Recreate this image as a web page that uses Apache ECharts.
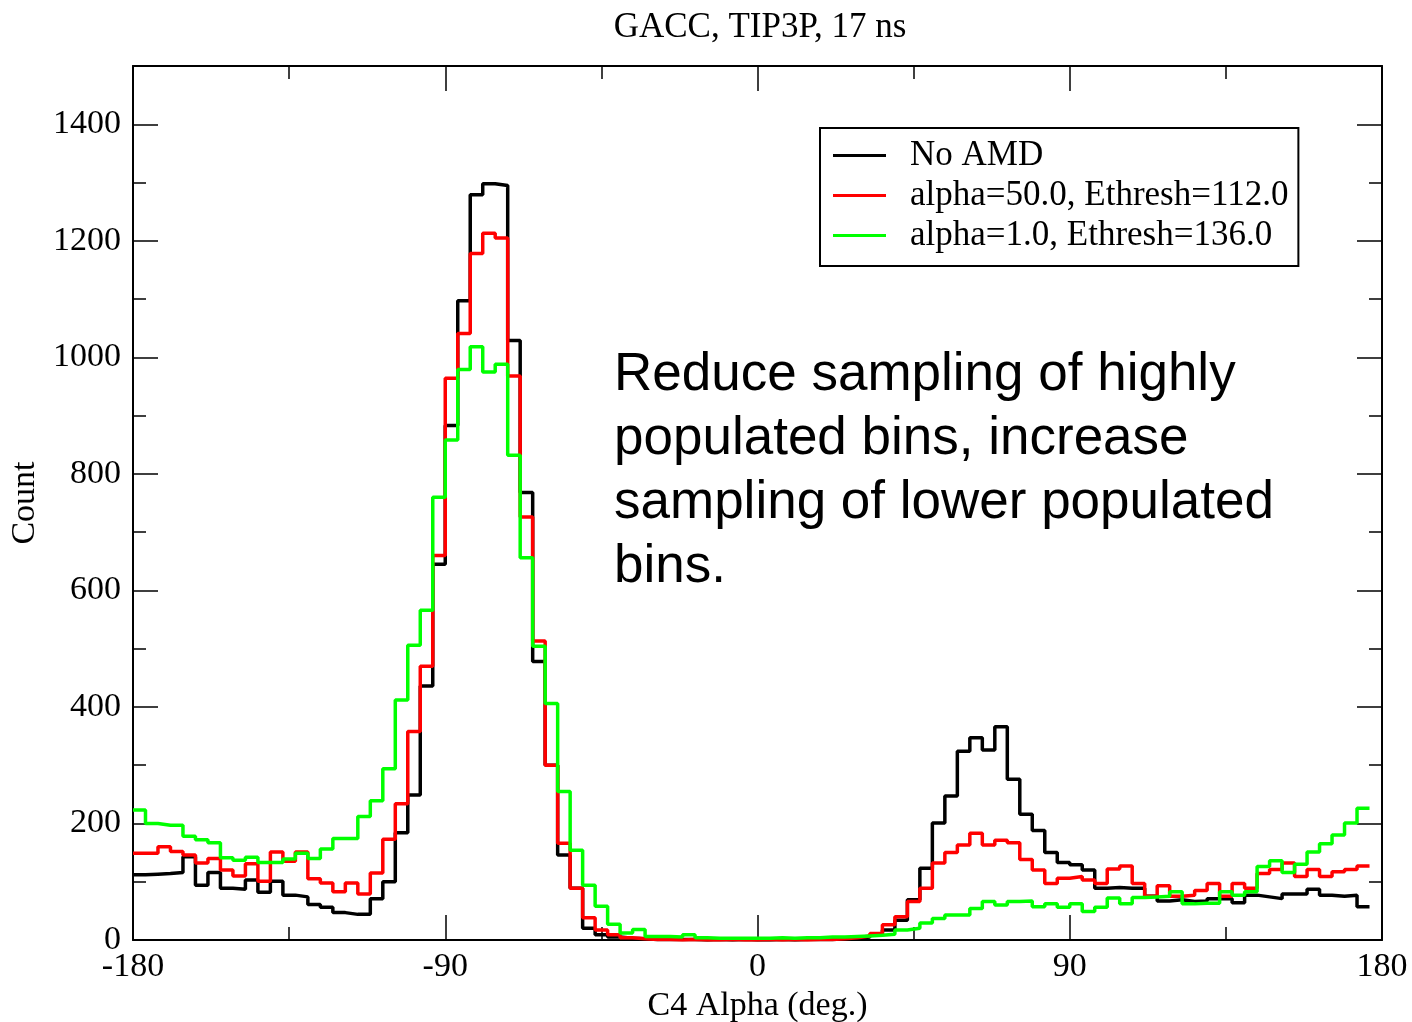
<!DOCTYPE html>
<html>
<head>
<meta charset="utf-8">
<script src="https://cdn.jsdelivr.net/npm/echarts@6/dist/echarts.min.js"></script>
<style>
  html, body { margin: 0; padding: 0; background: #fff; }
  #chart { width: 1412px; height: 1022px; }
</style>
</head>
<body>
<div id="chart"></div>
<script>
// ---- Data (histogram of C4 alpha, 3.6 deg bins starting at -180) ----
const binStart = -180;
const binWidth = 3.6;
const xTicks = [-180, -90, 0, 90, 180];
const yTicks = [0, 200, 400, 600, 800, 1000, 1200, 1400];
const seriesNames = ['No AMD', 'alpha=50.0, Ethresh=112.0', 'alpha=1.0, Ethresh=136.0'];

const noAMD = [112, 113, 114, 116, 143, 94, 116, 89, 87, 103,
  82, 101, 77, 74, 61, 56, 47, 44, 44, 71,
  100, 184, 249, 436, 645, 883, 1097, 1279, 1298, 1295,
  1029, 768, 478, 300, 146, 89, 20, 9, 5, 3,
  2, 1, 1, 1, 1, 0, 1, 0, 1, 0,
  0, 1, 0, 1, 1, 1, 2, 3, 5, 9,
  17, 34, 69, 123, 201, 247, 324, 347, 326, 366,
  276, 216, 188, 150, 133, 129, 120, 89, 90, 89,
  89, 75, 67, 69, 66, 67, 71, 71, 64, 77,
  74, 71, 79, 79, 87, 77, 75, 77, 57];

const alpha50 = [149, 149, 160, 152, 146, 132, 140, 120, 110, 131,
  101, 151, 135, 151, 105, 98, 83, 98, 79, 115,
  173, 234, 358, 470, 660, 964, 1041, 1178, 1213, 1205,
  968, 726, 513, 300, 166, 89, 38, 17, 9, 4,
  2, 1, 1, 0, 1, 0, 0, 1, 0, 0,
  1, 0, 1, 0, 1, 1, 2, 4, 7, 11,
  26, 40, 66, 89, 132, 150, 163, 183, 163, 171,
  167, 138, 120, 97, 106, 109, 103, 97, 122, 127,
  97, 75, 93, 75, 77, 85, 97, 75, 97, 89,
  114, 121, 132, 109, 121, 109, 117, 121, 127];

const alpha1 = [223, 200, 197, 197, 178, 172, 167, 141, 137, 142,
  133, 133, 139, 149, 140, 156, 174, 174, 212, 239,
  294, 412, 506, 566, 760, 858, 979, 1018, 975, 988,
  832, 656, 504, 406, 255, 154, 94, 58, 27, 12,
  18, 6, 6, 5, 9, 4, 3, 3, 3, 3,
  3, 4, 3, 4, 4, 5, 5, 6, 7, 8,
  10, 17, 20, 29, 37, 43, 43, 54, 66, 60,
  66, 67, 57, 62, 56, 62, 49, 56, 72, 62,
  73, 74, 75, 83, 62, 63, 63, 83, 77, 83,
  126, 136, 116, 130, 151, 165, 180, 201, 226];

// bin left edges (plus the closing edge of the last bin)
const binEdges = Array.from({ length: noAMD.length + 1 },
  (_, i) => Math.round((binStart + binWidth * i) * 10) / 10);

function stepData(values) {
  const d = values.map((v, i) => [binEdges[i], v]);
  d.push([binEdges[values.length], values[values.length - 1]]);
  return d;
}

const serif = '"Liberation Serif", "DejaVu Serif", serif';
const FS = 34;

const chart = echarts.init(document.getElementById('chart'), null, { renderer: 'canvas' });

function xAxisCfg(pos, showLabels, name) {
  return {
    type: 'value', position: pos, gridIndex: 0,
    min: xTicks[0], max: xTicks[xTicks.length - 1], interval: 90,
    name: name || '', nameLocation: 'middle', nameGap: 43,
    nameTextStyle: { fontFamily: serif, fontSize: FS, color: '#000' },
    axisLine: { show: true, onZero: false, lineStyle: { color: '#000', width: 2 } },
    axisTick: { show: true, inside: true, length: 25, lineStyle: { color: '#000', width: 1.5 } },
    minorTick: { show: true, splitNumber: 2, length: 13, lineStyle: { color: '#000', width: 1.5 } },
    splitLine: { show: false },
    axisLabel: { show: showLabels, margin: 10, fontFamily: serif, fontSize: FS, color: '#000',
      formatter: v => String(v) }
  };
}
function yAxisCfg(pos, showLabels, name) {
  return {
    type: 'value', position: pos, gridIndex: 0,
    min: yTicks[0], max: 1500, interval: 200,
    name: name || '', nameLocation: 'middle', nameGap: 76, nameRotate: 90,
    nameTextStyle: { fontFamily: serif, fontSize: FS, color: '#000' },
    axisLine: { show: true, onZero: false, lineStyle: { color: '#000', width: 2 } },
    axisTick: { show: true, inside: true, length: 25, lineStyle: { color: '#000', width: 1.5 } },
    minorTick: { show: true, splitNumber: 2, length: 13, lineStyle: { color: '#000', width: 1.5 } },
    splitLine: { show: false },
    axisLabel: { show: showLabels, margin: 12, showMaxLabel: false, fontFamily: serif, fontSize: FS, color: '#000',
      formatter: v => String(v) }
  };
}

const colors = ['#000000', '#ff0000', '#00ff00'];
const seriesValues = [noAMD, alpha50, alpha1];

const option = {
  animation: false,
  backgroundColor: '#ffffff',
  title: {
    text: 'GACC, TIP3P, 17 ns',
    left: 755, top: 5, textAlign: 'center',
    textStyle: { fontFamily: serif, fontSize: 35, fontWeight: 'normal', color: '#000' }
  },
  grid: { left: 133, right: 30, top: 66, bottom: 82, containLabel: false, outerBoundsMode: 'none' },
  xAxis: [xAxisCfg('bottom', true, 'C4 Alpha (deg.)'), xAxisCfg('top', false)],
  yAxis: [yAxisCfg('left', true, 'Count'), yAxisCfg('right', false)],
  legend: {
    orient: 'vertical',
    left: 820, top: 128,
    data: seriesNames,
    icon: 'rect',
    itemWidth: 53, itemHeight: 3,
    itemGap: 5,
    padding: [10, 10, 13, 13],
    borderColor: '#000', borderWidth: 2,
    textStyle: { fontFamily: serif, fontSize: 35, color: '#000', padding: [0, 0, 0, 19], lineHeight: 32 }
  },
  graphic: [{
    type: 'text', left: 614, top: 343, silent: true,
    style: {
      text: 'Reduce sampling of highly\npopulated bins, increase\nsampling of lower populated\nbins.',
      font: '53px "Liberation Sans", Arial, sans-serif',
      fill: '#000', lineHeight: 64
    }
  }],
  series: seriesNames.map((nm, i) => ({
    name: nm, type: 'line', step: 'end', xAxisIndex: 0, yAxisIndex: 0,
    symbol: 'none', data: stepData(seriesValues[i]),
    itemStyle: { color: colors[i] },
    lineStyle: { color: colors[i], width: 3.5 },
    z: 2 + i
  }))
};
chart.setOption(option);
</script>
</body>
</html>
